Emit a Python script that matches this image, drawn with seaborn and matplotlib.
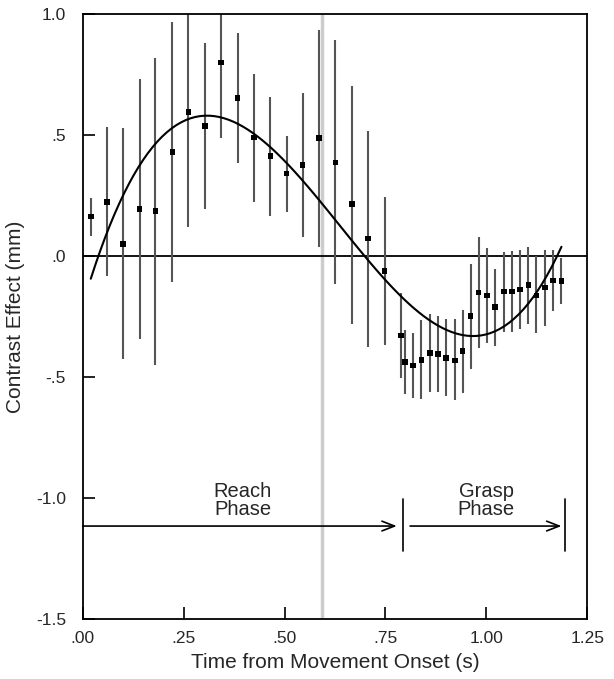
import numpy as np
import pandas as pd
import seaborn as sns
import matplotlib
matplotlib.use("Agg")
import matplotlib.pyplot as plt

# time from movement onset (s)
time_s = [0.020, 0.060, 0.100, 0.141, 0.180, 0.222, 0.262, 0.303, 0.343, 0.384,
          0.424, 0.465, 0.505, 0.545, 0.586, 0.626, 0.667, 0.707, 0.748, 0.789,
          0.799, 0.818, 0.839, 0.860, 0.880, 0.900, 0.922, 0.941, 0.961, 0.981,
          1.002, 1.022, 1.043, 1.064, 1.083, 1.104, 1.124, 1.145, 1.165, 1.186]
# contrast effect (mm)
effect = [0.163, 0.224, 0.050, 0.194, 0.187, 0.430, 0.594, 0.537, 0.799, 0.652,
          0.489, 0.413, 0.340, 0.377, 0.488, 0.387, 0.214, 0.073, -0.061, -0.328,
          -0.438, -0.453, -0.430, -0.400, -0.405, -0.421, -0.431, -0.393, -0.248, -0.151,
          -0.163, -0.211, -0.147, -0.146, -0.138, -0.121, -0.163, -0.131, -0.102, -0.103]
err_hi = [0.241, 0.532, 0.528, 0.730, 0.820, 0.968, 1.067, 0.879, 1.112, 0.920,
          0.752, 0.658, 0.496, 0.675, 0.934, 0.893, 0.704, 0.517, 0.245, -0.154,
          -0.306, -0.317, -0.264, -0.240, -0.248, -0.262, -0.259, -0.223, -0.034, 0.077,
          0.032, -0.054, 0.018, 0.021, 0.025, 0.039, 0.000, 0.025, 0.025, -0.010]
err_lo = [0.083, -0.083, -0.427, -0.343, -0.452, -0.107, 0.121, 0.193, 0.486, 0.383,
          0.224, 0.165, 0.183, 0.077, 0.039, -0.116, -0.281, -0.375, -0.368, -0.506,
          -0.570, -0.588, -0.592, -0.561, -0.561, -0.577, -0.595, -0.565, -0.468, -0.379,
          -0.361, -0.370, -0.313, -0.313, -0.303, -0.282, -0.320, -0.288, -0.227, -0.200]

x_ticks = [0.0, 0.25, 0.5, 0.75, 1.0, 1.25]
x_ticklabels = ['.00', '.25', '.50', '.75', '1.00', '1.25']
y_ticks = [1.0, 0.5, 0.0, -0.5, -1.0, -1.5]
y_ticklabels = ['1.0', '.5', '.0', '-.5', '-1.0', '-1.5']

marker_time = 0.594   # grey vertical reference
reach_end = 0.794
grasp_end = 1.195

df = pd.DataFrame({'t': time_s, 'eff': effect, 'hi': err_hi, 'lo': err_lo})

sns.set_style("ticks")
plt.rcParams['font.family'] = ['Liberation Sans', 'DejaVu Sans']

fig = plt.figure(figsize=(6.14, 6.79), dpi=100)
ax = fig.add_axes([0.1347, 0.0884, 0.8218, 0.8910])

ax.axvline(marker_time, color='#cccccc', lw=2.5, zorder=0)
ax.axhline(0, color='black', lw=1.3, zorder=1)

ax.vlines(df.t, df.lo, df.hi, color='#555555', lw=1.5, zorder=2)
sns.scatterplot(data=df, x='t', y='eff', marker='s', s=16, color='black',
                edgecolor='none', ax=ax, zorder=3)
sns.regplot(data=df, x='t', y='eff', order=3, ci=None, scatter=False,
            line_kws={'color': 'black', 'lw': 1.5}, ax=ax)

# phase annotations
arrow_y = -1.116
ap = dict(arrowstyle='->,head_length=0.9,head_width=0.35', color='black', lw=1.2,
          shrinkA=0, shrinkB=0)
ax.annotate('', xy=(reach_end - 0.016, arrow_y), xytext=(0.0, arrow_y), arrowprops=ap)
ax.annotate('', xy=(grasp_end - 0.009, arrow_y), xytext=(reach_end + 0.017, arrow_y), arrowprops=ap)
ax.plot([reach_end, reach_end], [-1.006, -1.218], color='black', lw=1.2)
ax.plot([grasp_end, grasp_end], [-1.006, -1.218], color='black', lw=1.2)
ax.text(0.397, -1.01, 'Reach\nPhase', ha='center', va='center', fontsize=14.5, linespacing=0.98)
ax.text(1.0, -1.01, 'Grasp\nPhase', ha='center', va='center', fontsize=14.5, linespacing=0.98)

ax.set_xlim(0, 1.25)
ax.set_ylim(-1.5, 1.0)
ax.set_xticks(x_ticks)
ax.set_xticklabels(x_ticklabels)
ax.set_yticks(y_ticks)
ax.set_yticklabels(y_ticklabels)
ax.tick_params(direction='in', length=8.5, width=1.2, labelsize=12.5, color='black')
ax.tick_params(axis='x', pad=9)
ax.tick_params(axis='y', pad=12)
for s in ax.spines.values():
    s.set_visible(True)
    s.set_linewidth(1.3)
    s.set_color('black')
ax.set_xlabel('Time from Movement Onset (s)', fontsize=15, labelpad=5)
ax.set_ylabel('Contrast Effect (mm)', fontsize=15, labelpad=8)

fig.savefig('out.png', dpi=100)
